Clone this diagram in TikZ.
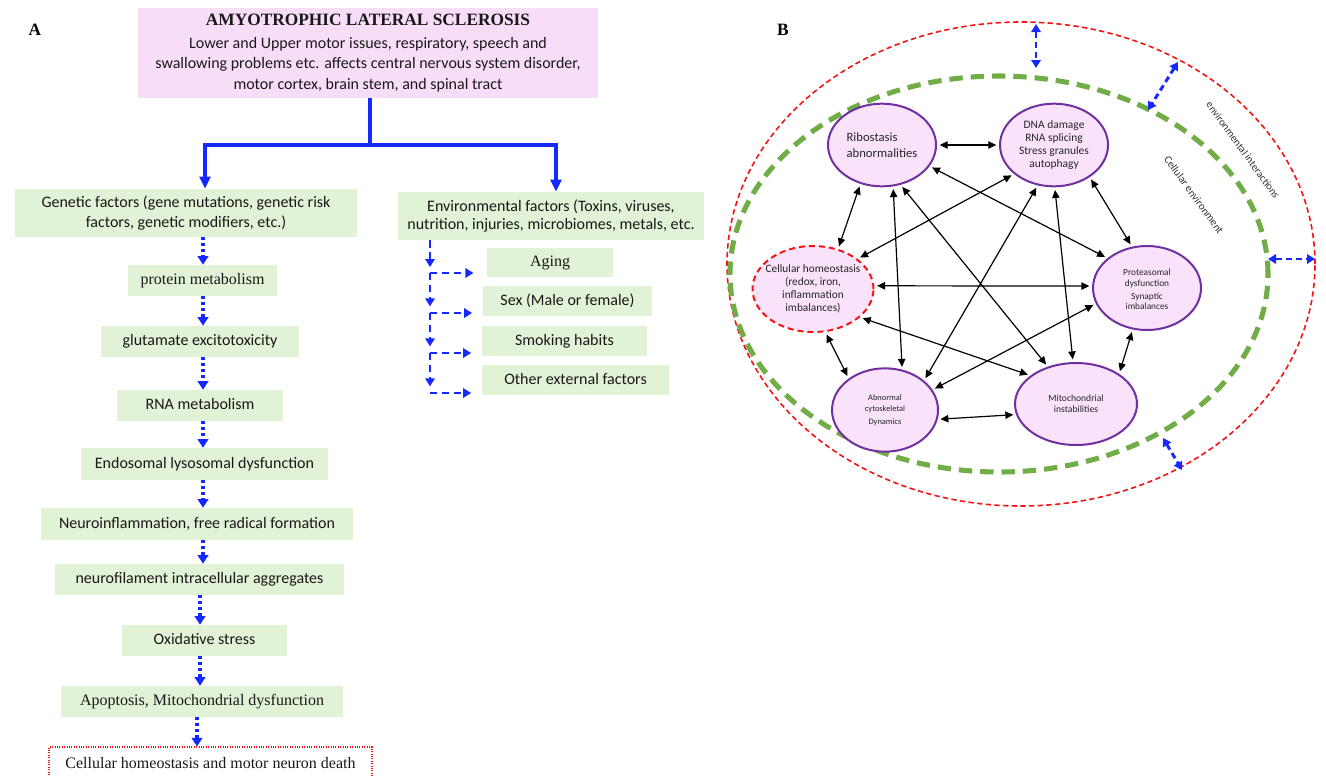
\documentclass[tikz,border=0pt]{standalone}
\usepackage{fontspec}
\setmainfont{Liberation Serif}
\newfontfamily\carl{Carlito}
\usetikzlibrary{arrows.meta,shapes.geometric}

\definecolor{boxgreen}{RGB}{226,242,214}
\definecolor{boxpink}{RGB}{248,221,248}
\definecolor{ellpink}{RGB}{249,226,250}
\definecolor{ellpurple}{RGB}{112,48,160}
\definecolor{flowblue}{RGB}{20,40,255}
\definecolor{ringred}{RGB}{245,20,20}
\definecolor{ringgreen}{RGB}{112,173,71}

\begin{document}
\begin{tikzpicture}[x=0.75pt,y=-0.75pt,
  gbox/.style={rectangle, fill=boxgreen, inner sep=0pt, align=center, text=black!90,
    font=\carl\fontsize{12}{15.5}\selectfont},
  gserif/.style={gbox, font=\rmfamily\fontsize{12}{14}\selectfont},
  oneline/.style={text height=8.6pt, text depth=2.6pt},
  trunk/.style={flowblue, line width=2.4pt},
  trunkhead/.style={trunk, -{Triangle[length=9pt,width=8pt]}},
  dotflow/.style={flowblue, line width=2.6pt, dash pattern=on 2.4pt off 2pt,
    -{Triangle[length=6.5pt,width=8pt]}},
  dashflow/.style={flowblue, line width=2.2pt, dash pattern=on 5.5pt off 3.5pt,
    -{Triangle[length=6pt,width=7pt]}},
  ringflow/.style={flowblue, line width=2.2pt, dash pattern=on 4.5pt off 3pt,
    {Triangle[length=6pt,width=7pt]}-{Triangle[length=6pt,width=7pt]}},
  cell/.style={ellipse, draw=ellpurple, line width=1.5pt, fill=ellpink, inner sep=0pt},
  celltext/.style={align=center, text=black!85, inner sep=0pt},
  link/.style={black, line width=0.9pt,
    {Triangle[length=6pt,width=5.5pt]}-{Triangle[length=6pt,width=5.5pt]},
    shorten <=2pt, shorten >=2pt},
  panel/.style={font=\rmfamily\bfseries\fontsize{13}{13}\selectfont}
]
\useasboundingbox (0,0) rectangle (1326,775);

% ---------------- Panel A ----------------
\node[panel] (labA) at (35,30) {A};

\node[fill=boxpink, inner sep=0pt, minimum width=345pt, minimum height=67.5pt,
  align=center, text=black!90, font=\carl\fontsize{12}{15.4}\selectfont] (als) at (368,53)
  {{\rmfamily\bfseries\fontsize{13}{15}\selectfont AMYOTROPHIC LATERAL SCLEROSIS}\\[1.8pt]
   Lower and Upper motor issues, respiratory, speech and\\
   swallowing problems etc. affects central nervous system disorder,\\
   motor cortex, brain stem, and spinal tract};

\node[gbox, minimum width=256.5pt, minimum height=36pt] (gen) at (186,213)
  {Genetic factors (gene mutations, genetic risk\\ factors, genetic modifiers, etc.)};
\node[gbox, minimum width=229.5pt, minimum height=36pt,
  font=\carl\fontsize{12}{13.8}\selectfont] (env) at (551,216)
  {Environmental factors (Toxins, viruses,\\ nutrition, injuries, microbiomes, metals, etc.};

% trunk from the title box to both factor groups
\coordinate (split) at (370,145);
\coordinate (lx) at (205,145);
\coordinate (rx) at (556,145);
\draw[trunk] (als.south -| split) -- (split);
\draw[trunkhead] (split) -| (gen.north -| lx);
\draw[trunkhead] (split) -| (env.north -| rx);

% genetic cascade
\node[gserif, oneline, minimum width=111.75pt, minimum height=23.25pt] (protm) at (202.5,280.5) {protein metabolism};
\node[gbox, oneline, minimum width=148.5pt, minimum height=23.25pt] (glu) at (200,341.5) {glutamate excitotoxicity};
\node[gbox, oneline, minimum width=124.5pt, minimum height=23.25pt] (rna) at (200,405.5) {RNA metabolism};
\node[gbox, oneline, minimum width=185.25pt, minimum height=24pt] (endo) at (204.5,464) {Endosomal lysosomal dysfunction};
\node[gbox, oneline, minimum width=234pt, minimum height=24pt] (neuro) at (197,524) {Neuroinflammation, free radical formation};
\node[gbox, oneline, minimum width=216.75pt, minimum height=23.25pt] (nfil) at (199.5,579.5) {neurofilament intracellular aggregates};
\node[gbox, oneline, minimum width=123.75pt, minimum height=23.25pt] (oxi) at (204.5,640.5) {Oxidative stress};
\node[gserif, oneline, minimum width=211.5pt, minimum height=23.25pt] (apo) at (202,701.5) {Apoptosis, Mitochondrial dysfunction};
\node[gserif, oneline, fill=white, draw=ringred, line width=0.8pt, densely dotted,
  minimum width=242.25pt, minimum height=26.25pt] (death) at (210.5,764.5)
  {Cellular homeostasis and motor neuron death};

\coordinate (ax) at (203,0);
\coordinate (bx) at (200,0);
\coordinate (cx) at (197,0);
\draw[dotflow] (gen.south -| ax) -- (protm.north -| ax);
\draw[dotflow] (protm.south -| ax) -- (glu.north -| ax);
\draw[dotflow] (glu.south -| ax) -- (rna.north -| ax);
\draw[dotflow] (rna.south -| ax) -- (endo.north -| ax);
\draw[dotflow] (endo.south -| ax) -- (neuro.north -| ax);
\draw[dotflow] (neuro.south -| ax) -- (nfil.north -| ax);
\draw[dotflow] (nfil.south -| bx) -- (oxi.north -| bx);
\draw[dotflow] (oxi.south -| bx) -- (apo.north -| bx);
\draw[dotflow] (apo.south -| cx) -- (death.north -| cx);

% environmental branches
\node[gserif, oneline, minimum width=94.5pt, minimum height=21.75pt] (aging) at (550,262.5) {Aging};
\node[gbox, oneline, minimum width=126.75pt, minimum height=22.5pt] (sex) at (567.5,301) {Sex (Male or female)};
\node[gbox, oneline, minimum width=123.75pt, minimum height=22.5pt] (smoke) at (564.5,341) {Smoking habits};
\node[gbox, oneline, minimum width=140.25pt, minimum height=22.5pt] (other) at (575.5,380) {Other external factors};

\coordinate (e1) at (430,273);
\coordinate (e2) at (430,313);
\coordinate (e3) at (430,353);
\coordinate (e4) at (430,393);
\draw[dashflow, shorten >=4.5pt] (env.south -| e1) -- (e1);
\draw[dashflow, shorten >=5pt] (e1) -- (e2);
\draw[dashflow, shorten >=5pt] (e2) -- (e3);
\draw[dashflow, shorten >=5pt] (e3) -- (e4);
\draw[dashflow, shorten >=10pt] (e1) -- (e1 -| aging.west);
\draw[dashflow, shorten >=8pt] (e2) -- (e2 -| sex.west);
\draw[dashflow, shorten >=8pt] (e3) -- (e3 -| smoke.west);
\draw[dashflow, shorten >=8pt] (e4) -- (e4 -| other.west);

% ---------------- Panel B ----------------
\node[panel] (labB) at (783,30) {B};

% environment rings
\draw[ringred, line width=1.2pt, dash pattern=on 4pt off 2.5pt]
  (1021,264) ellipse [x radius=220.5pt, y radius=181.5pt];
\draw[ringgreen, line width=3.8pt, dash pattern=on 10pt off 6pt]
  (999,274) ellipse [x radius=201.75pt, y radius=148.5pt];

\node[font=\carl\fontsize{8}{8}\selectfont, rotate=-54, text=black!80] (envlab)
  at (1243,150) {environmental interactions};
\node[font=\carl\fontsize{8.2}{8.2}\selectfont, rotate=-54, text=black!80] (celllab)
  at (1194,195) {Cellular environment};

% exchange between the rings
\coordinate (r1a) at (1036,24);  \coordinate (r1b) at (1036,68);
\coordinate (r2a) at (1178,62);  \coordinate (r2b) at (1148,110);
\coordinate (r3a) at (1268,259); \coordinate (r3b) at (1315,259);
\coordinate (r4a) at (1163,438); \coordinate (r4b) at (1182,470);
\draw[ringflow] (r1a) -- (r1b);
\draw[ringflow] (r2a) -- (r2b);
\draw[ringflow] (r3a) -- (r3b);
\draw[ringflow] (r4a) -- (r4b);

% cellular processes
\node[cell, minimum width=81pt, minimum height=62pt] (ribo) at (882,145) {};
\node[cell, minimum width=81pt, minimum height=62pt] (dna) at (1054,145) {};
\node[cell, draw=ringred, dash pattern=on 4.5pt off 3pt, minimum width=90.75pt,
  minimum height=64.5pt] (homeo) at (813,289) {};
\node[cell, minimum width=81pt, minimum height=63pt] (prot) at (1147,288) {};
\node[cell, minimum width=79.5pt, minimum height=62.5pt] (abn) at (885,410) {};
\node[cell, minimum width=91.5pt, minimum height=61.5pt] (mito) at (1076,404) {};

\node[celltext, align=left, font=\carl\fontsize{9.5}{12}\selectfont] (ribo-t) at (ribo)
  {Ribostasis\\abnormalities};
\node[celltext, font=\carl\fontsize{8.6}{9.75}\selectfont] (dna-t) at (dna)
  {DNA damage\\RNA splicing\\Stress granules\\autophagy};
\node[celltext, font=\carl\fontsize{8.5}{9.75}\selectfont] (homeo-t) at (homeo)
  {Cellular homeostasis\\(redox, iron,\\inflammation\\imbalances)};
\node[celltext, font=\carl\fontsize{7}{8.2}\selectfont] (prot-t) at ([yshift=-1pt]prot.center)
  {Proteasomal\\dysfunction\\[1.5pt]Synaptic\\imbalances};
\node[celltext, font=\carl\fontsize{6.3}{8.3}\selectfont] (abn-t) at (abn)
  {Abnormal\\cytoskeletal\\[1.5pt]Dynamics};
\node[celltext, font=\carl\fontsize{7.2}{8.3}\selectfont] (mito-t) at (mito)
  {Mitochondrial\\instabilities};

% every process influences every other one
\draw[link] (ribo.0) -- (dna.180);
\draw[link] (ribo.-119) -- (homeo.58);
\draw[link] (ribo.-75) -- (abn.67);
\draw[link] (ribo.-65) -- (mito.127);
\draw[link] (ribo.-24) -- (prot.143);
\draw[link] (dna.-144) -- (homeo.34);
\draw[link] (dna.-112) -- (abn.37);
\draw[link] (dna.-89) -- (mito.94);
\draw[link] (dna.-42) -- (prot.110);
\draw[link] (homeo.3) -- (prot.178);
\draw[link] (homeo.-31) -- (mito.148);
\draw[link] (homeo.-74) -- (abn.139);
\draw[link] (prot.197) -- (abn.23);
\draw[link] (prot.-109) -- (mito.35);
\draw[link] (abn.-10) -- (mito.190);
\end{tikzpicture}
\end{document}
